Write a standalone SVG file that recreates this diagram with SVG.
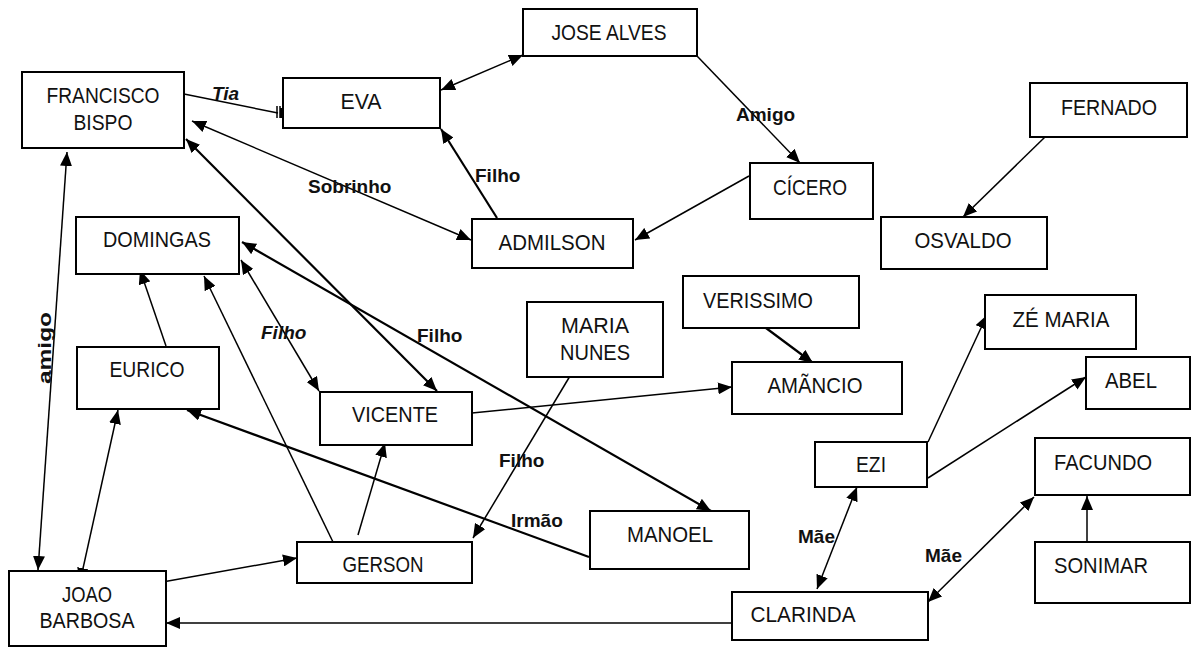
<svg xmlns="http://www.w3.org/2000/svg" width="1191" height="648" viewBox="0 0 1191 648">
<style>
.node rect{fill:#fff;stroke:#000;stroke-width:2}
.node text{font-family:"Liberation Sans",Arial,sans-serif;font-size:22px;fill:#111;text-anchor:middle}
.c{fill:none;stroke:#000;stroke-width:1.5}
.t{stroke-width:2.2}
.lbl{font-family:"Liberation Sans",Arial,sans-serif;font-size:19px;font-weight:bold;fill:#111}
</style>
<defs>
<marker id="a" markerUnits="userSpaceOnUse" markerWidth="14" markerHeight="12" refX="14" refY="6" orient="auto-start-reverse">
<path d="M0,0 L14,6 L0,12 z" fill="#000"/>
</marker>
</defs>
<rect width="1191" height="648" fill="#fff"/>
<g id="connectors">
<path class="c" d="M184,94 L278,113"/>
<path d="M277,106 L277,118 M280,106 L280,118" stroke="#000" stroke-width="1.5"/>
<rect x="280" y="108" width="3" height="10" fill="#000"/>
<path class="c" d="M441,90 L523,55" marker-start="url(#a)" marker-end="url(#a)"/>
<path class="c t" d="M497,218 L441,129" marker-end="url(#a)"/>
<path class="c" d="M697,56 L800,163" marker-end="url(#a)"/>
<path class="c" d="M749,176 L635,240" marker-end="url(#a)"/>
<path class="c" d="M192,121 L471,240" marker-start="url(#a)" marker-end="url(#a)"/>
<path class="c" d="M1045,137 L963,217" marker-end="url(#a)"/>
<path class="c t" d="M186,139 L437,391" marker-start="url(#a)" marker-end="url(#a)"/>
<path class="c" d="M67,152 L38,570" marker-start="url(#a)" marker-end="url(#a)"/>
<path class="c" d="M166,346 L140,270" marker-end="url(#a)"/>
<path class="c" d="M333,542 L204,276" marker-end="url(#a)"/>
<path class="c" d="M241,260 L319,391" marker-start="url(#a)" marker-end="url(#a)"/>
<path class="c t" d="M242,242 L711,511" marker-start="url(#a)" marker-end="url(#a)"/>
<path class="c t" d="M589,557 L187,410" marker-end="url(#a)"/>
<path class="c" d="M118,410 L80,582" marker-start="url(#a)" marker-end="url(#a)"/>
<path class="c" d="M157,583 L297,558" marker-end="url(#a)"/>
<path class="c" d="M358,535 L385,443" marker-end="url(#a)"/>
<path class="c" d="M570,376 L473,538" marker-end="url(#a)"/>
<path class="c" d="M472,413 L732,387" marker-end="url(#a)"/>
<path class="c t" d="M766,328 L813,363" marker-end="url(#a)"/>
<path class="c" d="M928,442 L987,315" marker-end="url(#a)"/>
<path class="c" d="M928,478 L1086,377" marker-end="url(#a)"/>
<path class="c" d="M857,487 L817,589" marker-start="url(#a)" marker-end="url(#a)"/>
<path class="c" d="M928,602 L1034,497" marker-start="url(#a)" marker-end="url(#a)"/>
<path class="c" d="M1087,542 L1087,496" marker-end="url(#a)"/>
<path class="c" d="M732,623 L166,623" marker-end="url(#a)"/>
</g>
<g id="labels">
<text class="lbl" x="212" y="100" font-size="21" font-style="italic">Tia</text>
<text class="lbl" x="308" y="193">Sobrinho</text>
<text class="lbl" x="475" y="182">Filho</text>
<text class="lbl" x="736" y="121">Amigo</text>
<text class="lbl" x="261" y="339" font-style="italic">Filho</text>
<text class="lbl" x="417" y="342">Filho</text>
<text class="lbl" x="499" y="467">Filho</text>
<text class="lbl" x="511" y="527">Irmão</text>
<text class="lbl" x="798" y="543">Mãe</text>
<text class="lbl" x="925" y="562">Mãe</text>
<text class="lbl" transform="translate(51,348) rotate(-90)" text-anchor="middle" font-size="21" textLength="72" lengthAdjust="spacingAndGlyphs">amigo</text>
</g>
<g id="francisco" class="node"><rect x="22" y="72" width="162" height="76"/><text x="103" y="103" textLength="113" lengthAdjust="spacingAndGlyphs">FRANCISCO</text><text x="103" y="130" textLength="59" lengthAdjust="spacingAndGlyphs">BISPO</text></g>
<g id="eva" class="node"><rect x="283" y="78" width="157" height="50"/><text x="361" y="109" textLength="41" lengthAdjust="spacingAndGlyphs">EVA</text></g>
<g id="jose" class="node"><rect x="523" y="9" width="174" height="47"/><text x="609" y="40" textLength="115" lengthAdjust="spacingAndGlyphs">JOSE ALVES</text></g>
<g id="cicero" class="node"><rect x="750" y="163" width="123" height="56"/><text x="810" y="195" textLength="74" lengthAdjust="spacingAndGlyphs">CÍCERO</text></g>
<g id="admilson" class="node"><rect x="472" y="219" width="161" height="49"/><text x="552" y="250" textLength="107" lengthAdjust="spacingAndGlyphs">ADMILSON</text></g>
<g id="fernado" class="node"><rect x="1030" y="83" width="157" height="54"/><text x="1109" y="115" textLength="96" lengthAdjust="spacingAndGlyphs">FERNADO</text></g>
<g id="osvaldo" class="node"><rect x="881" y="217" width="166" height="52"/><text x="963" y="248" textLength="97" lengthAdjust="spacingAndGlyphs">OSVALDO</text></g>
<g id="domingas" class="node"><rect x="76" y="217" width="163" height="57"/><text x="157" y="247" textLength="108" lengthAdjust="spacingAndGlyphs">DOMINGAS</text></g>
<g id="eurico" class="node"><rect x="77" y="347" width="142" height="62"/><text x="147" y="377" textLength="75" lengthAdjust="spacingAndGlyphs">EURICO</text></g>
<g id="vicente" class="node"><rect x="320" y="392" width="152" height="53"/><text x="395" y="422" textLength="86" lengthAdjust="spacingAndGlyphs">VICENTE</text></g>
<g id="maria" class="node"><rect x="527" y="302" width="136" height="75"/><text x="595" y="333" textLength="68" lengthAdjust="spacingAndGlyphs">MARIA</text><text x="595" y="360" textLength="70" lengthAdjust="spacingAndGlyphs">NUNES</text></g>
<g id="verissimo" class="node"><rect x="683" y="276" width="176" height="52"/><text x="758" y="308" textLength="110" lengthAdjust="spacingAndGlyphs">VERISSIMO</text></g>
<g id="amancio" class="node"><rect x="732" y="362" width="170" height="52"/><text x="815" y="393" textLength="95" lengthAdjust="spacingAndGlyphs">AMÃNCIO</text></g>
<g id="ezi" class="node"><rect x="815" y="442" width="112" height="45"/><text x="871" y="472" textLength="30" lengthAdjust="spacingAndGlyphs">EZI</text></g>
<g id="zemaria" class="node"><rect x="985" y="295" width="151" height="54"/><text x="1061" y="327" textLength="97" lengthAdjust="spacingAndGlyphs">ZÉ MARIA</text></g>
<g id="abel" class="node"><rect x="1086" y="357" width="104" height="52"/><text x="1131" y="388" textLength="52" lengthAdjust="spacingAndGlyphs">ABEL</text></g>
<g id="facundo" class="node"><rect x="1035" y="438" width="155" height="57"/><text x="1103" y="470" textLength="98" lengthAdjust="spacingAndGlyphs">FACUNDO</text></g>
<g id="sonimar" class="node"><rect x="1035" y="542" width="155" height="61"/><text x="1101" y="573" textLength="94" lengthAdjust="spacingAndGlyphs">SONIMAR</text></g>
<g id="clarinda" class="node"><rect x="732" y="592" width="196" height="48"/><text x="803" y="622" textLength="105" lengthAdjust="spacingAndGlyphs">CLARINDA</text></g>
<g id="manoel" class="node"><rect x="590" y="511" width="159" height="58"/><text x="670" y="542" textLength="86" lengthAdjust="spacingAndGlyphs">MANOEL</text></g>
<g id="gerson" class="node"><rect x="297" y="542" width="175" height="41"/><text x="383" y="572" textLength="81" lengthAdjust="spacingAndGlyphs">GERSON</text></g>
<g id="joao" class="node"><rect x="9" y="571" width="157" height="75"/><text x="87" y="602" textLength="50" lengthAdjust="spacingAndGlyphs">JOAO</text><text x="87" y="628" textLength="95" lengthAdjust="spacingAndGlyphs">BARBOSA</text></g>
</svg>
